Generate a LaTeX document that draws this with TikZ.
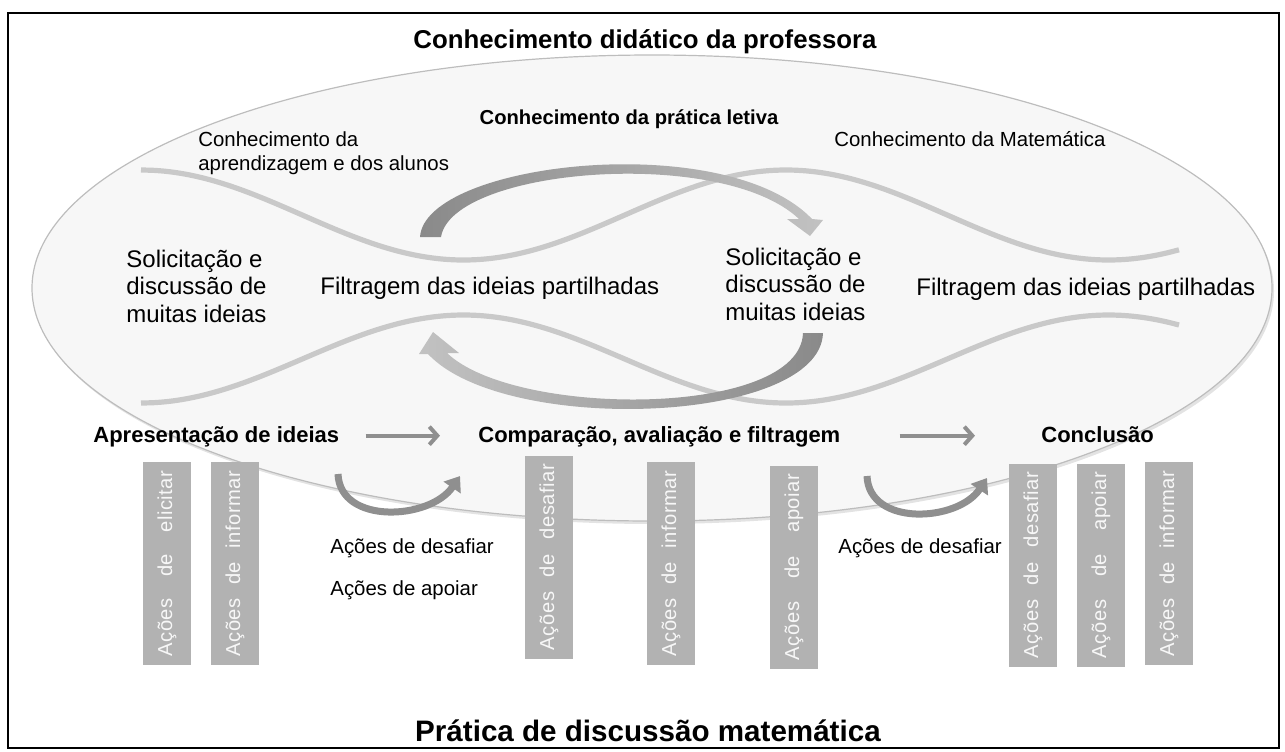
\documentclass[tikz,border=0pt]{standalone}
\usepackage{fontspec}
\setmainfont{Liberation Sans}
\newfontfamily\barfont[LetterSpace=2.5]{Liberation Sans}
\usetikzlibrary{arrows.meta}
\definecolor{rim}{gray}{0.74}
\definecolor{ovalfill}{gray}{0.968}
\definecolor{wave}{gray}{0.79}
\definecolor{bigdark}{gray}{0.54}
\definecolor{biglight}{gray}{0.76}
\definecolor{barfill}{gray}{0.70}
\definecolor{bartext}{gray}{0.97}
\definecolor{flow}{gray}{0.56}
\newcommand{\acoes}[1]{\makebox[93pt][s]{Ações\hfill de\hfill #1}}

\begin{document}
\begin{tikzpicture}[x=0.5pt,y=-0.5pt,
  head/.style={font=\fontsize{12.9}{15}\selectfont\bfseries,inner sep=0pt,anchor=base},
  stage/.style={font=\fontsize{11}{13}\selectfont\bfseries,inner sep=0pt,anchor=base west,text height=1.7ex,text depth=0.5ex},
  small/.style={font=\fontsize{10.2}{12}\selectfont,inner sep=0pt,anchor=base west,align=left},
  big/.style={font=\fontsize{12}{13.75}\selectfont,inner sep=0pt,anchor=base west,align=left},
  actionbar/.style={rotate=90,fill=barfill,text=bartext,minimum width=101.5pt,minimum height=24pt,inner sep=0pt,font=\barfont\fontsize{10.1}{12}\selectfont},
  wavy/.style={draw=wave,line width=2.6pt},
  flowarrow/.style={draw=flow,line width=2pt,-{Straight Barb[length=4pt,width=9pt]}},
  turn/.style={draw=flow,line width=3.5pt,-{Triangle[length=7pt,width=10pt]}}]
\useasboundingbox (0,0) rectangle (1285,751);

% the oval of the teacher's knowledge
\fill[gray!22] (654,291) ellipse [x radius=310pt,y radius=116.5pt];
\draw[draw=rim,fill=ovalfill,line width=0.6pt] (652,288) ellipse [x radius=310pt,y radius=116.5pt];

% waves
\draw[wavy] plot[domain=141:1179,samples=90,smooth] (\x,{215-45*cos(0.55814*(\x-141))});
\draw[wavy] plot[domain=141:1179,samples=90,smooth] (\x,{359+44*cos(0.55814*(\x-141))});

% big curved arrows
\shade[left color=bigdark,right color=biglight] (420,237) .. controls (425,162) and (725,128) .. (812,219)
  -- (823,220) -- (810,236) -- (787,219) -- (799,219) .. controls (722,146) and (452,168) .. (441,237) -- cycle;
\shade[left color=biglight,right color=bigdark] (823,333) .. controls (820,424) and (505,436) .. (428,354)
  -- (419,354) -- (433,332) -- (459,353) -- (447,353) .. controls (515,418) and (800,418) .. (803,333) -- cycle;

\node[head] (didatico) at (645,48) {Conhecimento didático da professora};
\node[font=\fontsize{10.1}{12}\selectfont\bfseries,inner sep=0pt,anchor=base] (letiva) at (629,124) {Conhecimento da prática letiva};
\node[small] (alunos) at (198,170) {Conhecimento da\\aprendizagem e dos alunos};
\node[small] (matematica) at (834,146) {Conhecimento da Matemática};

\node[big] (solic1) at (126,322) {Solicitação e\\discussão de\\muitas ideias};
\node[big] (filtr1) at (320,294) {Filtragem das ideias partilhadas};
\node[big] (solic2) at (725,320) {Solicitação e\\discussão de\\muitas ideias};
\node[big] (filtr2) at (916,295) {Filtragem das ideias partilhadas};

% phases of the discussion
\node[stage] (apres) at (93,442) {Apresentação de ideias};
\node[stage] (compar) at (478,442) {Comparação, avaliação e filtragem};
\node[stage] (concl) at (1041,442) {Conclusão};
\draw[flowarrow,shorten <=13pt,shorten >=19pt] (apres.east) -- (compar.west);
\draw[flowarrow,shorten <=29.5pt,shorten >=33pt] (compar.east) -- (concl.west);

% actions
\node[actionbar] (elicitar1) at (167,563.5) {\acoes{elicitar}};
\node[actionbar] (informar1) at (235,563.5) {\acoes{informar}};
\node[actionbar] (desafiar2) at (549,557) {\acoes{desafiar}};
\node[actionbar] (informar2) at (671,563.5) {\acoes{informar}};
\node[actionbar] (apoiar2) at (794,567) {\acoes{apoiar}};
\node[actionbar] (desafiar3) at (1033,565) {\acoes{desafiar}};
\node[actionbar] (apoiar3) at (1101,565) {\acoes{apoiar}};
\node[actionbar] (informar3) at (1169,563.5) {\acoes{informar}};

\coordinate (turnA) at (338,474);
\coordinate (turnB) at (460,476);
\coordinate (turnC) at (867,476);
\coordinate (turnD) at (987,478);
\draw[turn] (turnA) .. controls (340,525) and (430,520) .. (turnB);
\draw[turn] (turnC) .. controls (869,527) and (958,522) .. (turnD);
\node[small] (desaf1) at (330,553) {Ações de desafiar};
\node[small] (apoiar1) at (330,595) {Ações de apoiar};
\node[small] (desaf2) at (838,553) {Ações de desafiar};

\node[head,font=\fontsize{14.8}{17}\selectfont\bfseries] (discussao) at (648,741) {Prática de discussão matemática};

\draw[line width=1.3pt] (8,13) rectangle (1279,748);
\end{tikzpicture}
\end{document}
